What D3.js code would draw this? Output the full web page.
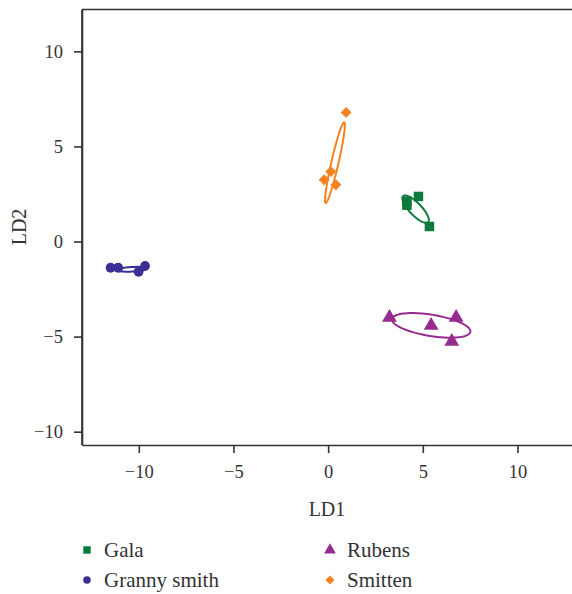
<!DOCTYPE html>
<html><head><meta charset="utf-8">
<script src="https://cdn.jsdelivr.net/npm/d3@7"></script>
<style>
body{margin:0;background:#fff;}
svg text{font-family:"Liberation Serif","DejaVu Serif",serif;fill:#333;}
</style></head>
<body><svg id="c" width="572" height="594"></svg>
<script>
const groups = ["Gala","Granny smith","Rubens","Smitten"];
const colors = ["#0b7a3b","#3b2f96","#952c8e","#f58220"];
const symbols = ["square","circle","triangle","diamond"];
// points LD1, LD2
const galaX = [4.16, 4.77, 4.16, 5.35];
const galaY = [2.11, 2.37, 1.91, 0.79];
const grannyX = [-11.49, -11.09, -10.01, -9.67];
const grannyY = [-1.38, -1.38, -1.59, -1.28];
const rubensX = [3.24, 5.44, 6.76, 6.53];
const rubensY = [-4.00, -4.42, -4.00, -5.26];
const smittenX = [0.95, 0.14, -0.21, 0.41];
const smittenY = [6.79, 3.68, 3.25, 2.98];
// ellipses: centre, semi-axes (data units), angle (deg)
const ellCX = [4.62, -10.35, 5.44, 0.36];
const ellCY = [1.70, -1.46, -4.41, 4.15];
const ellA = [0.95, 0.80, 2.10, 2.18];
const ellB = [0.32, 0.12, 0.56, 0.19];
const ellAng = [-46, 3, -9.2, 77];
const xTicks = [-10,-5,0,5,10];
const yTicks = [-10,-5,0,5,10];

const svg = d3.select("#c");
const L=82, R=572, T=9.5, B=445;
const x = d3.scaleLinear().domain([-13.0, 12.88]).range([L, R]);
const y = d3.scaleLinear().domain([-10.7, 12.2]).range([B, T]);

const ptsX=[galaX,grannyX,rubensX,smittenX], ptsY=[galaY,grannyY,rubensY,smittenY];

// ellipses
groups.forEach((g,i)=>{
  const th = ellAng[i]*Math.PI/180;
  const pts = d3.range(0,361,3).map(d=>{
    const t=d*Math.PI/180;
    const ex = ellA[i]*Math.cos(t), ey = ellB[i]*Math.sin(t);
    return [x(ellCX[i]+ex*Math.cos(th)-ey*Math.sin(th)), y(ellCY[i]+ex*Math.sin(th)+ey*Math.cos(th))];
  });
  svg.append("path").attr("d", d3.line()(pts)).attr("fill","none")
    .attr("stroke",colors[i]).attr("stroke-width",2);
});

function sym(name, size){
  if(name==="square") return d3.symbol(d3.symbolSquare,size)();
  if(name==="circle") return d3.symbol(d3.symbolCircle,size)();
  if(name==="triangle") return d3.symbol(d3.symbolTriangle,size)();
  return d3.symbol(d3.symbolSquare,size)();
}
const sizes={square:90,circle:75,triangle:95,diamond:60};
groups.forEach((g,i)=>{
  ptsX[i].forEach((v,j)=>{
    svg.append("path").attr("d",sym(symbols[i],sizes[symbols[i]]))
      .attr("transform",`translate(${x(v)},${y(ptsY[i][j])})`+(symbols[i]==="diamond"?" rotate(45)":""))
      .attr("fill",colors[i]);
  });
});

// axes
const xa = svg.append("g").attr("transform",`translate(0,${B})`)
  .call(d3.axisBottom(x).tickValues(xTicks).tickSize(8).tickPadding(12).tickSizeOuter(0));
const ya = svg.append("g").attr("transform",`translate(${L},0)`)
  .call(d3.axisLeft(y).tickValues(yTicks).tickSize(8).tickPadding(11).tickSizeOuter(0));
[xa,ya].forEach(a=>{
  a.select(".domain").attr("stroke","#333").attr("stroke-width",1.6);
  a.selectAll(".tick line").attr("stroke","#333").attr("stroke-width",1.6);
  a.selectAll(".tick text").attr("font-size",18.5).attr("fill","#333")
   .attr("font-family",'"Liberation Serif",serif');
});
svg.append("line").attr("x1",L).attr("x2",R).attr("y1",T).attr("y2",T)
  .attr("stroke","#333").attr("stroke-width",1.6);
svg.append("line").attr("x1",L).attr("x2",L).attr("y1",T).attr("y2",B)
  .attr("stroke","#333").attr("stroke-width",1.6);

svg.append("text").attr("x",327).attr("y",516).attr("text-anchor","middle")
  .attr("font-size",20).text("LD1");
svg.append("text").attr("transform",`translate(26,227) rotate(-90)`).attr("text-anchor","middle")
  .attr("font-size",20).text("LD2");

// legend
const legX=[87,87,330,330], legY=[550,580,550,580];
const legSizes={square:55,circle:45,triangle:60,diamond:40};
groups.forEach((g,i)=>{
  svg.append("path").attr("d",sym(symbols[i],legSizes[symbols[i]]))
    .attr("transform",`translate(${legX[i]},${legY[i]})`+(symbols[i]==="diamond"?" rotate(45)":""))
    .attr("fill",colors[i]);
  svg.append("text").attr("x",legX[i]+17).attr("y",legY[i]+7).attr("font-size",21).text(g);
});
</script></body></html>
